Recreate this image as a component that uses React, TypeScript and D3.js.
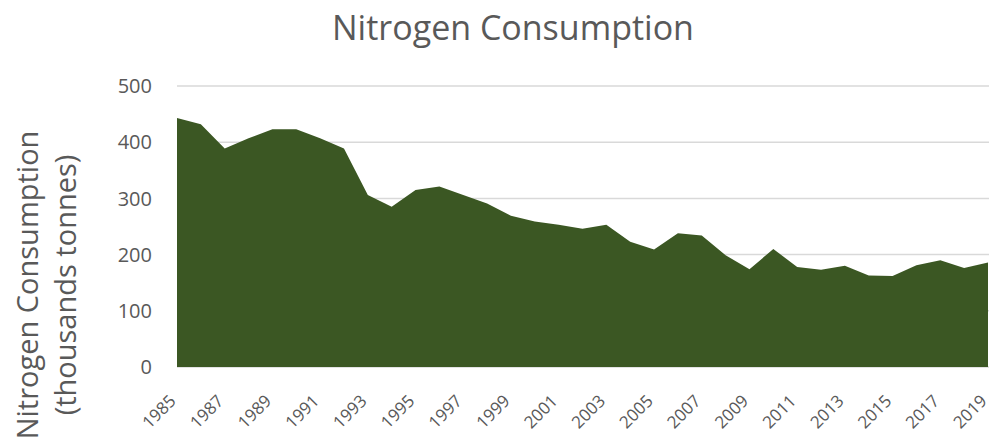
import React, { useEffect, useRef } from 'react';
import * as d3 from 'd3';

const years = d3.range(1985, 2020);
const consumption = [
  443, 432, 389, 407, 423, 423, 407, 389, 306, 285,
  315, 321, 306, 291, 269, 259, 253, 246, 253, 223,
  209, 238, 234, 199, 174, 210, 178, 173, 180, 163,
  162, 181, 190, 176, 186,
];
const yTicks = [0, 100, 200, 300, 400, 500];
const xTickYears = years.filter((y, i) => i % 2 === 0);

const App = () => {
  const svgRef = useRef<SVGSVGElement>(null);
  const width = 993;
  const height = 441;
  const margin = { top: 86, right: 4, bottom: 74, left: 177 };

  useEffect(() => {
    const svg = d3.select(svgRef.current);
    svg.selectAll('*').remove();
    const font = "'Open Sans', sans-serif";
    const textColor = '#595959';

    const x = d3.scaleLinear()
      .domain([1985, 2019])
      .range([margin.left, width - margin.right - 1]);
    const y = d3.scaleLinear()
      .domain([0, 500])
      .range([height - margin.bottom, margin.top]);

    // gridlines
    svg.append('g')
      .selectAll('line')
      .data(yTicks)
      .join('line')
      .attr('x1', margin.left)
      .attr('x2', width - margin.right)
      .attr('y1', d => y(d))
      .attr('y2', d => y(d))
      .attr('stroke', '#d9d9d9')
      .attr('stroke-width', 1.5);

    const area = d3.area<number>()
      .x((d, i) => x(years[i]))
      .y0(y(0))
      .y1(d => y(d));

    svg.append('path')
      .datum(consumption)
      .attr('d', area)
      .attr('fill', '#3b5723');

    // y tick labels
    svg.append('g')
      .selectAll('text')
      .data(yTicks)
      .join('text')
      .attr('x', 152)
      .attr('y', d => y(d))
      .attr('dy', '0.36em')
      .attr('text-anchor', 'end')
      .attr('font-family', font)
      .attr('font-size', 20)
      .attr('fill', textColor)
      .text(d => d);

    // x tick labels
    svg.append('g')
      .selectAll('text')
      .data(xTickYears)
      .join('text')
      .attr('transform', d => `translate(${x(d)},${y(0) + 35}) rotate(-45)`)
      .attr('text-anchor', 'end')
      .attr('font-family', font)
      .attr('font-size', 17)
      .attr('fill', textColor)
      .text(d => d);

    // title
    svg.append('text')
      .attr('x', 513)
      .attr('y', 40)
      .attr('text-anchor', 'middle')
      .attr('font-family', font)
      .attr('font-size', 34)
      .attr('fill', textColor)
      .text('Nitrogen Consumption');

    // y axis title
    const yTitle = svg.append('text')
      .attr('transform', `translate(38,285) rotate(-90)`)
      .attr('text-anchor', 'middle')
      .attr('font-family', font)
      .attr('font-size', 29)
      .attr('fill', textColor);
    yTitle.append('tspan').attr('x', 0).attr('dy', 0).text('Nitrogen Consumption');
    yTitle.append('tspan').attr('x', 0).attr('dy', 38).text('(thousands tonnes)');
  }, []);

  return (
    <div style={{ position: 'absolute', left: 0, top: 0 }}>
      <svg ref={svgRef} width={width} height={height} style={{ display: 'block', background: '#fff' }} />
    </div>
  );
};

export default App;
